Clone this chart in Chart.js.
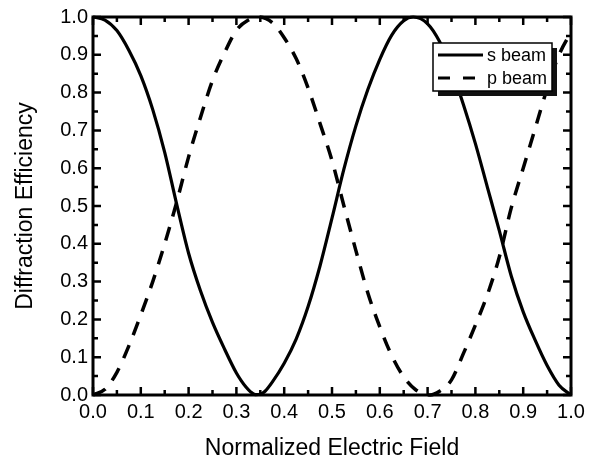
<!DOCTYPE html>
<html>
<head>
<meta charset="utf-8">
<script src="https://cdn.jsdelivr.net/npm/chart.js@4.4.0/dist/chart.umd.min.js"></script>
<style>
  html, body { margin: 0; padding: 0; background: #fff; }
  #wrap { width: 599px; height: 466px; }
</style>
</head>
<body>
<div id="wrap"><canvas id="chart"></canvas></div>
<script>
'use strict';

// values
const S_X = [0, 0.025, 0.05, 0.075, 0.1, 0.125, 0.15, 0.175, 0.2, 0.225, 0.25, 0.275, 0.3, 0.31, 0.32, 0.33, 0.34,
             0.35, 0.36, 0.375, 0.4, 0.425, 0.45, 0.475, 0.5, 0.525, 0.55, 0.575, 0.6, 0.625, 0.65, 0.67,
             0.7, 0.725, 0.75, 0.775, 0.8, 0.825, 0.85, 0.875, 0.9, 0.925, 0.95, 0.975, 1.0];
const S_BEAM = [1.000, 0.992, 0.964, 0.912, 0.845, 0.755, 0.642, 0.505, 0.375, 0.275, 0.192, 0.122, 0.058, 0.038, 0.021, 0.008, 0.001,
                0.002, 0.010, 0.034, 0.084, 0.148, 0.234, 0.342, 0.468, 0.598, 0.712, 0.808, 0.888, 0.952, 0.990, 1.000,
                0.982, 0.935, 0.860, 0.768, 0.665, 0.550, 0.435, 0.315, 0.220, 0.145, 0.078, 0.026, 0.000];

const P_X = [0, 0.025, 0.05, 0.075, 0.1, 0.125, 0.15, 0.175, 0.2, 0.225, 0.25, 0.275, 0.3, 0.325, 0.345,
             0.375, 0.4, 0.425, 0.45, 0.475, 0.5, 0.525, 0.55, 0.575, 0.6, 0.625, 0.65, 0.675, 0.705,
             0.725, 0.75, 0.775, 0.8, 0.825, 0.85, 0.875, 0.9, 0.925, 0.95, 0.975, 1.0];
const P_BEAM = [0.000, 0.015, 0.060, 0.130, 0.212, 0.300, 0.400, 0.510, 0.630, 0.735, 0.832, 0.905, 0.965, 0.992, 1.000,
                0.985, 0.945, 0.890, 0.812, 0.718, 0.620, 0.500, 0.382, 0.270, 0.180, 0.104, 0.048, 0.014, 0.000,
                0.010, 0.040, 0.110, 0.185, 0.265, 0.365, 0.495, 0.600, 0.705, 0.810, 0.900, 0.960];

const X_TICKS = [0, 0.1, 0.2, 0.3, 0.4, 0.5, 0.6, 0.7, 0.8, 0.9, 1.0];
const Y_TICKS = [0, 0.1, 0.2, 0.3, 0.4, 0.5, 0.6, 0.7, 0.8, 0.9, 1.0];
const SERIES_NAMES = ['s beam', 'p beam'];

const FONT = "'Liberation Sans', Arial, sans-serif";

/* ── frame + inward ticks on all four sides ───────────── */
const frameTicks = {
    id: 'frameTicks',
    afterDatasetsDraw(chart) {
        const { ctx, chartArea: a, scales: { x, y } } = chart;
        ctx.save();
        ctx.strokeStyle = '#000';
        ctx.lineWidth = 2.5;
        const major = 8, minor = 5;
        const mark = (vals, len, horiz) => {
            vals.forEach(v => {
                if (horiz) {
                    const px = x.getPixelForValue(v);
                    ctx.beginPath();
                    ctx.moveTo(px, a.bottom); ctx.lineTo(px, a.bottom - len);
                    ctx.moveTo(px, a.top);    ctx.lineTo(px, a.top + len);
                    ctx.stroke();
                } else {
                    const py = y.getPixelForValue(v);
                    ctx.beginPath();
                    ctx.moveTo(a.left, py);  ctx.lineTo(a.left + len, py);
                    ctx.moveTo(a.right, py); ctx.lineTo(a.right - len, py);
                    ctx.stroke();
                }
            });
        };
        const mids = t => t.slice(1).map((v, i) => (v + t[i]) / 2);
        mark(X_TICKS, major, true);
        mark(mids(X_TICKS), minor, true);
        mark(Y_TICKS, major, false);
        mark(mids(Y_TICKS), minor, false);
        ctx.lineWidth = 3;
        ctx.strokeRect(a.left, a.top, a.right - a.left, a.bottom - a.top);
        ctx.restore();
    }
};

/* ── boxed legend with drop shadow ────────────────────── */
const boxLegend = {
    id: 'boxLegend',
    afterDraw(chart) {
        const { ctx, chartArea: a } = chart;
        const bx = a.right - 138, by = a.top + 26, bw = 119, bh = 48;
        ctx.save();
        ctx.fillStyle = '#111';
        ctx.fillRect(bx + 5, by + 5, bw, bh);
        ctx.fillStyle = '#fff';
        ctx.fillRect(bx, by, bw, bh);
        ctx.strokeStyle = '#000';
        ctx.lineWidth = 1.5;
        ctx.strokeRect(bx, by, bw, bh);
        ctx.font = `18px ${FONT}`;
        ctx.textBaseline = 'middle';
        ctx.fillStyle = '#000';
        chart.data.datasets.forEach((ds, i) => {
            const ly = by + 12 + i * 23;
            ctx.lineWidth = 3;
            ctx.setLineDash(i === 0 ? [] : [12, 13]);
            ctx.beginPath();
            ctx.moveTo(bx + 5, ly);
            ctx.lineTo(bx + 50, ly);
            ctx.stroke();
            ctx.setLineDash([]);
            ctx.fillText(ds.label, bx + 54, ly + 1);
        });
        ctx.restore();
    }
};

new Chart(document.getElementById('chart'), {
    type: 'line',
    data: {
        datasets: [{
            label: SERIES_NAMES[0],
            data: S_X.map((v, i) => ({ x: v, y: S_BEAM[i] })),
            borderColor: '#000',
            borderWidth: 3.2,
            pointRadius: 0,
            cubicInterpolationMode: 'monotone',
            clip: false,
        }, {
            label: SERIES_NAMES[1],
            data: P_X.map((v, i) => ({ x: v, y: P_BEAM[i] })),
            borderColor: '#000',
            borderWidth: 3.5,
            borderDash: [14, 11],
            pointRadius: 0,
            cubicInterpolationMode: 'monotone',
            clip: false,
        }]
    },
    options: {
        responsive: true, maintainAspectRatio: false,
        animation: false,
        layout: { padding: { top: 14, right: 28, left: 0, bottom: 0 } },
        plugins: { legend: { display: false }, tooltip: { enabled: false } },
        scales: {
            x: {
                type: 'linear', min: 0, max: 1,
                grid: { display: false, drawTicks: false },
                border: { display: false },
                afterBuildTicks: s => { s.ticks = X_TICKS.map(v => ({ value: v })); },
                afterFit: s => { s.height = 71; },
                ticks: { color: '#000', padding: 5, maxRotation: 0, font: { family: FONT, size: 20 },
                         callback: v => v.toFixed(1) },
                title: { display: true, text: 'Normalized Electric Field', color: '#000',
                         font: { family: FONT, size: 23 }, padding: { top: 0, bottom: 4 } }
            },
            y: {
                type: 'linear', min: 0, max: 1,
                grid: { display: false, drawTicks: false },
                border: { display: false },
                afterBuildTicks: s => { s.ticks = Y_TICKS.map(v => ({ value: v })); },
                afterFit: s => { s.width = 93; },
                ticks: { color: '#000', padding: 5, font: { family: FONT, size: 20 },
                         callback: v => v.toFixed(1) },
                title: { display: true, text: 'Diffraction Efficiency', color: '#000',
                         font: { family: FONT, size: 23 }, padding: { top: 12, bottom: 0 } }
            }
        }
    },
    plugins: [frameTicks, boxLegend]
});
</script>
</body>
</html>
